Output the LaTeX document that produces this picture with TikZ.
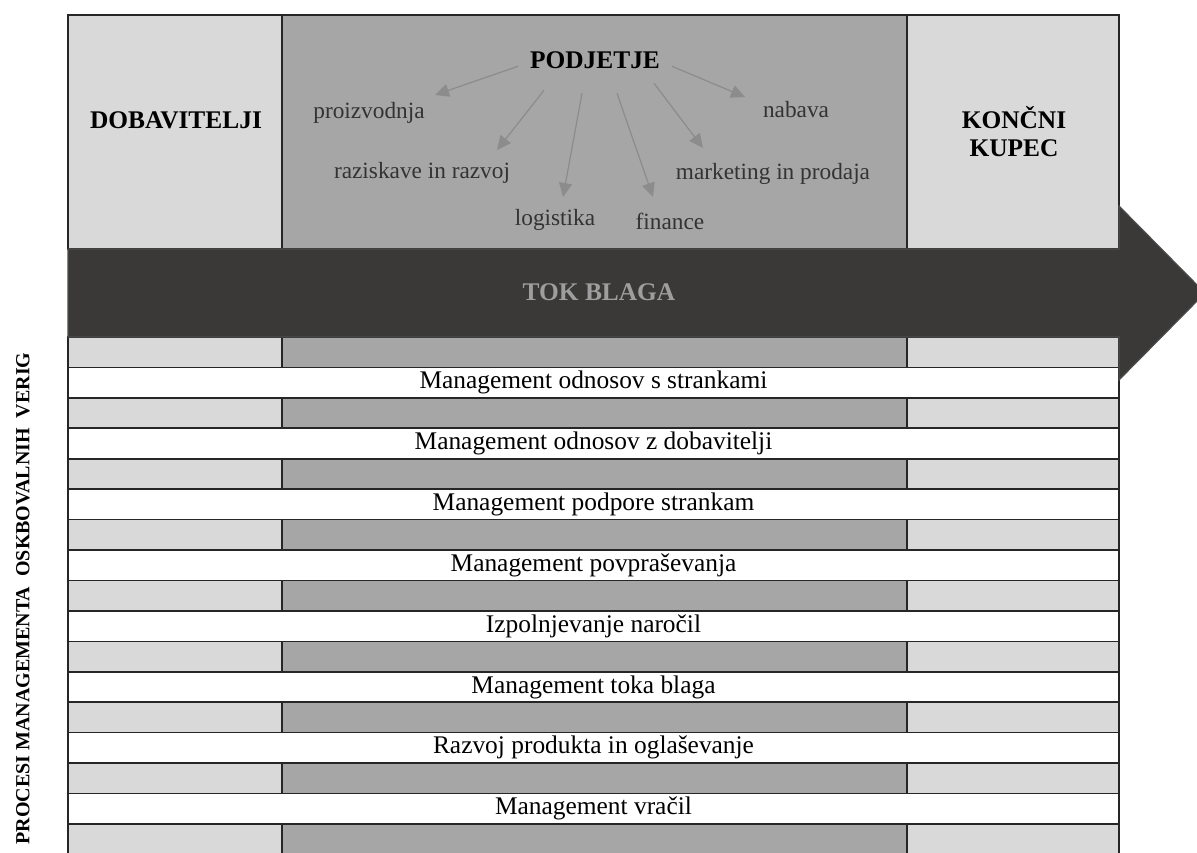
\documentclass[tikz,border=0pt]{standalone}
\usepackage{fontspec}
\setmainfont{Liberation Serif}
\usepackage{tikz}
\usetikzlibrary{shapes,arrows.meta,positioning}

\definecolor{cellLight}{HTML}{D9D9D9}
\definecolor{cellMid}{HTML}{A6A6A6}
\definecolor{flowDark}{HTML}{3A3938}
\definecolor{ruleDark}{HTML}{262626}

\begin{document}
\begin{tikzpicture}[x=1pt,y=1pt]
			\tikzstyle{Cell}	= [draw=ruleDark, line width=1.2pt]
			\tikzstyle{Band}	= [draw=ruleDark, line width=1.6pt]
			\tikzstyle{Head}	= [font=\fontsize{25.4}{28.4}\selectfont\bfseries, align=center, inner sep=0pt]
			\tikzstyle{Dept}	= [font=\fontsize{23.3}{28}\selectfont, text=black!80, anchor=base, inner sep=0pt]
			\tikzstyle{Link}	= [draw=black!45, line width=1.2pt, -{Triangle[length=14pt, width=13pt]}]
			\tikzstyle{Process}	= [Band, fill=white, minimum width=1051pt, minimum height=30.44pt, inner sep=0pt, font=\fontsize{25.4}{30}\selectfont]

			\useasboundingbox (0,0) rectangle (1197,852);

			% top row: suppliers, company, end customer
			\filldraw [Cell, fill=cellLight] (68,603) rectangle (282,837);
			\filldraw [Cell, fill=cellMid] (282,603) rectangle (907,837);
			\filldraw [Cell, fill=cellLight] (907,603) rectangle (1119,837);

			% grey strips between the process rows
			\foreach \k in {0,...,8} {
				\pgfmathsetmacro{\rowY}{515-60.875*\k}
				\filldraw [Band, fill=cellLight] (68,\rowY) rectangle (282,\rowY-30.44);
				\filldraw [Band, fill=cellMid] (282,\rowY) rectangle (907,\rowY-30.44);
				\filldraw [Band, fill=cellLight] (907,\rowY) rectangle (1119,\rowY-30.44);
			}

			% process rows
			\node (p1) at (593.5,469.3) [Process] {Management odnosov s strankami};
			\node (p2) at (593.5,408.5) [Process] {Management odnosov z dobavitelji};
			\node (p3) at (593.5,347.6) [Process] {Management podpore strankam};
			\node (p4) at (593.5,286.7) [Process] {Management povpraševanja};
			\node (p5) at (593.5,225.8) [Process] {Izpolnjevanje naročil};
			\node (p6) at (593.5,165.0) [Process] {Management toka blaga};
			\node (p7) at (593.5,104.1) [Process] {Razvoj produkta in oglaševanje};
			\node (p8) at (593.5,43.2) [Process] {Management vračil};

			% flow of goods
			\filldraw [fill=flowDark, draw=black!70, line width=1.2pt] (68,515) -- (1119,515) -- (1119,472) -- (1205,559) -- (1119,646) -- (1119,603) -- (68,603) -- cycle;
			\node (flow) at (599,551.3) [Head, anchor=base, text=black!38] {TOK BLAGA};

			% members of the chain
			\node (dobavitelji) at (176,723.7) [Head, anchor=base] {DOBAVITELJI};
			\node (kupec) at (1014,720.3) [Head] {KONČNI\\KUPEC};
			\node (podjetje) at (595,783.7) [Head, anchor=base] {PODJETJE};

			\node (proizvodnja) at (369,733) [Dept] {proizvodnja};
			\node (raziskave) at (422,673) [Dept] {raziskave in razvoj};
			\node (logistika) at (555,626) [Dept] {logistika};
			\node (finance) at (670,622) [Dept] {finance};
			\node (marketing) at (773,672) [Dept] {marketing in prodaja};
			\node (nabava) at (796,734) [Dept] {nabava};

			\draw [Link] ([shift={(-77,2)}]podjetje.base) -- ([shift={(66,24)}]proizvodnja.base);
			\draw [Link] ([shift={(-51,-22)}]podjetje.base) -- ([shift={(75,29)}]raziskave.base);
			\draw [Link] ([shift={(-13,-25)}]podjetje.base) -- ([shift={(8,29)}]logistika.base);
			\draw [Link] ([shift={(22,-25)}]podjetje.base) -- ([shift={(-17,33)}]finance.base);
			\draw [Link] ([shift={(59,-15)}]podjetje.base) -- ([shift={(-70,32)}]marketing.base);
			\draw [Link] ([shift={(77,2)}]podjetje.base) -- ([shift={(-51,21)}]nabava.base);

			% side caption
			\node (procesi) at (23,253.5) [rotate=90, font=\fontsize{20}{24}\selectfont\bfseries, inner sep=0pt] {PROCESI MANAGEMENTA\ \ OSKBOVALNIH\ \ VERIG};
\end{tikzpicture}
\end{document}
